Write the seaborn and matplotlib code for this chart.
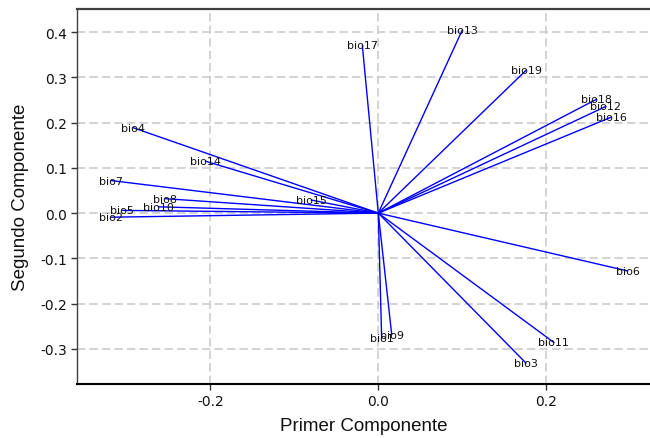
import matplotlib
matplotlib.use("Agg")
import matplotlib.pyplot as plt
import seaborn as sns
import pandas as pd

variables = ["bio1", "bio2", "bio3", "bio4", "bio5", "bio6", "bio7", "bio8", "bio9", "bio10",
             "bio11", "bio12", "bio13", "bio14", "bio15", "bio16", "bio17", "bio18", "bio19"]
pc1 = [0.004, -0.318, 0.176, -0.292, -0.305, 0.297, -0.318, -0.254, 0.016, -0.262,
       0.209, 0.271, 0.100, -0.206, -0.080, 0.277, -0.019, 0.260, 0.176]
pc2 = [-0.276, -0.009, -0.332, 0.189, 0.006, -0.128, 0.072, 0.032, -0.269, 0.014,
       -0.286, 0.236, 0.405, 0.115, 0.029, 0.212, 0.371, 0.252, 0.316]

x_ticks = [-0.2, 0.0, 0.2]
y_ticks = [-0.3, -0.2, -0.1, 0.0, 0.1, 0.2, 0.3, 0.4]

rows = []
for v, a, b in zip(variables, pc1, pc2):
    rows.append({"var": v, "x": 0.0, "y": 0.0, "o": 0})
    rows.append({"var": v, "x": a, "y": b, "o": 1})
df = pd.DataFrame(rows)

sns.set_style("ticks")
plt.rcParams["font.family"] = ["DejaVu Sans"]

fig = plt.figure(figsize=(6.5, 4.39), dpi=100)
ax = fig.add_axes([0.119, 0.123, 0.881, 0.854])

sns.lineplot(data=df, x="x", y="y", units="var", estimator=None, sort=False,
             color="#0000ff", linewidth=1.0, ax=ax)

for v, a, b in zip(variables, pc1, pc2):
    ax.text(a, b, v, ha="center", va="center", fontsize=8, color="#111111")

ax.set_xlim(-0.3583, 0.3235)
ax.set_ylim(-0.378, 0.4513)
ax.set_xticks(x_ticks)
ax.set_xticklabels([f"{t:.1f}" for t in x_ticks])
ax.set_yticks(y_ticks)
ax.set_yticklabels([f"{t:.1f}" for t in y_ticks])
ax.grid(True, color="#cccccc", linestyle=(0, (5, 2.5)), linewidth=1.2)
ax.set_axisbelow(True)

ax.tick_params(axis="both", direction="out", length=4, width=1, colors="#333333",
               labelsize=10, labelcolor="#111111")

ax.spines["right"].set_visible(False)
ax.spines["top"].set_color("#404040")
ax.spines["top"].set_linewidth(1.6)
ax.spines["left"].set_color("#404040")
ax.spines["left"].set_linewidth(1.0)
ax.spines["bottom"].set_color("#000000")
ax.spines["bottom"].set_linewidth(1.5)

ax.set_xlabel("Primer Componente", fontsize=13.5, family=["Liberation Sans"], color="#111111", labelpad=6)
ax.set_ylabel("Segundo Componente", fontsize=13.5, family=["Liberation Sans"], color="#111111", labelpad=8)

fig.savefig("out.png", dpi=100)
